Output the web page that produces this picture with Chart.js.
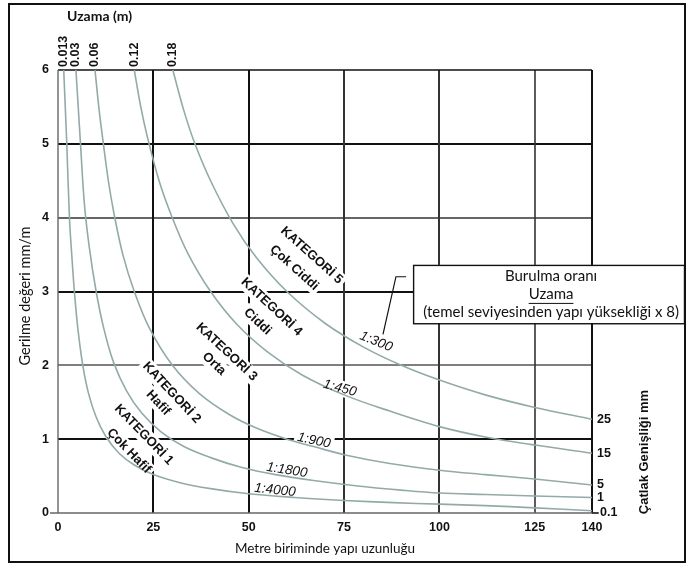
<!DOCTYPE html>
<html>
<head>
<meta charset="utf-8">
<script src="https://cdn.jsdelivr.net/npm/chart.js@4.4.1/dist/chart.umd.min.js"></script>
<style>
  html, body { margin: 0; padding: 0; background: #fff; }
  #wrap { width: 686px; height: 567px; }
</style>
</head>
<body>
<div id="wrap"><canvas id="c" width="686" height="567"></canvas></div>
<script>
// Building length (m) vs. strain (mm/m) for each extension curve
const uzamaLabels = ['0.013', '0.03', '0.06', '0.12', '0.18'];
const crackLabels = ['0.1', '1', '5', '15', '25'];
const ratioLabels = ['1:4000', '1:1800', '1:900', '1:450', '1:300'];

const lenE013 = [1.5, 2.3, 3.0, 3.6, 4.3, 5.2, 6.5, 8, 10, 12.5, 16, 20, 25, 32, 40, 50, 62, 75, 88, 100, 112, 125, 140];
const strE013 = [6, 5, 4, 3.5, 3.0, 2.5, 2.0, 1.62, 1.3, 1.04, 0.81, 0.65, 0.52, 0.41, 0.33, 0.26, 0.21, 0.17, 0.14, 0.12, 0.1, 0.07, 0.03];

const lenE03 = [4.7, 5.3, 5.9, 6.9, 8.2, 10, 12, 14.5, 18, 22, 27, 33, 40, 48, 57, 67, 78, 90, 100, 112, 125, 140];
const strE03 = [6, 5.5, 5, 4.2, 3.6, 3.0, 2.5, 2.05, 1.65, 1.35, 1.1, 0.9, 0.75, 0.62, 0.52, 0.44, 0.37, 0.31, 0.27, 0.25, 0.23, 0.21];

const lenE06 = [9.7, 10.8, 11.9, 13.2, 14.7, 17, 20, 24, 30, 37, 45, 52, 60, 67, 75, 87, 100, 112, 125, 140];
const strE06 = [6, 5.45, 5, 4.5, 4.05, 3.5, 3.0, 2.5, 2.0, 1.62, 1.33, 1.15, 1.0, 0.9, 0.79, 0.67, 0.58, 0.52, 0.46, 0.38];

const lenE12 = [20, 21.7, 23.4, 26.5, 29.8, 34, 40, 47, 55, 64, 75, 87, 100, 112, 125, 140];
const strE12 = [6, 5.5, 5.1, 4.5, 4.02, 3.52, 3.0, 2.55, 2.18, 1.87, 1.6, 1.38, 1.17, 1.03, 0.92, 0.81];

const lenE18 = [30.1, 33, 35.9, 40, 45.9, 52, 60, 70, 80, 90, 100, 112, 125, 140];
const strE18 = [6, 5.45, 5.0, 4.5, 3.92, 3.46, 3.0, 2.57, 2.25, 2.0, 1.8, 1.6, 1.43, 1.27];

const xTicks = [0, 25, 50, 75, 100, 125, 140];
const yTicks = [0, 1, 2, 3, 4, 5, 6];

const curveLens = [lenE013, lenE03, lenE06, lenE12, lenE18];
const curveStrains = [strE013, strE03, strE06, strE12, strE18];

// Category labels: [line1, line2], anchor (x, strain) of each line, angle
const categoryText = [
  ['KATEGORİ 1', 'Çok Hafif'],
  ['KATEGORİ 2', 'Hafif'],
  ['KATEGORİ 3', 'Orta'],
  ['KATEGORİ 4', 'Ciddi'],
  ['KATEGORİ 5', 'Çok Ciddi']
];
const categoryPos = [
  [[22.5, 1.06], [18.6, 0.84], 46],
  [[29.8, 1.63], [26.3, 1.49], 47],
  [[44.2, 2.18], [40.9, 2.02], 43],
  [[56.0, 2.79], [52.3, 2.59], 43],
  [[66.5, 3.49], [61.9, 3.32], 42]
];
const ratioPos = [
  [56.9, 0.31, 6],
  [60.0, 0.58, 9],
  [67.1, 0.98, 12],
  [73.9, 1.69, 15],
  [83.4, 2.32, 22]
];

const curveColor = '#93aaa9';
const BOLD = 'bold 12.5px "Liberation Sans", Arial, sans-serif';

const datasets = curveLens.map((xs, i) => ({
  label: uzamaLabels[i],
  data: xs.map((x, j) => ({ x: x, y: curveStrains[i][j] })),
  borderColor: curveColor,
  borderWidth: 1.6,
  pointRadius: 0,
  fill: false,
  tension: 0.35
}));

function rotText(ctx, text, cx, cy, deg, font, color, bg) {
  ctx.save();
  ctx.translate(cx, cy);
  ctx.rotate(deg * Math.PI / 180);
  ctx.font = font;
  const w = ctx.measureText(text).width;
  if (bg) {
    ctx.fillStyle = '#fff';
    ctx.fillRect(-w / 2 - 3, -8, w + 6, 16);
  } else {
    ctx.fillStyle = color;
    ctx.textAlign = 'center';
    ctx.textBaseline = 'middle';
    ctx.fillText(text, 0, 0);
  }
  ctx.restore();
}

function drawLabels(chart, bg) {
  const ctx = chart.ctx, sx = chart.scales.x, sy = chart.scales.y;
  const catFont = 'bold 13px "Liberation Sans", Arial, sans-serif';
  categoryText.forEach((lines, i) => {
    const p = categoryPos[i];
    rotText(ctx, lines[0], sx.getPixelForValue(p[0][0]), sy.getPixelForValue(p[0][1]), p[2], catFont, '#111', bg);
    rotText(ctx, lines[1], sx.getPixelForValue(p[1][0]), sy.getPixelForValue(p[1][1]), p[2], catFont, '#111', bg);
  });
  const rFont = 'italic 13.5px "Liberation Sans", Arial, sans-serif';
  ratioLabels.forEach((t, i) => {
    const p = ratioPos[i];
    rotText(ctx, t, sx.getPixelForValue(p[0]), sy.getPixelForValue(p[1]), p[2], rFont, '#111', bg);
  });
}

const decor = {
  id: 'decor',
  beforeDraw(chart) {
    const ctx = chart.ctx;
    ctx.save();
    ctx.fillStyle = '#fff';
    ctx.fillRect(0, 0, chart.width, chart.height);
    ctx.restore();
  },
  beforeDatasetsDraw(chart) {
    const ctx = chart.ctx, a = chart.chartArea, sx = chart.scales.x, sy = chart.scales.y;
    ctx.save();
    const hStyle = { 1: ['#111', 2], 2: ['#555', 1.5], 3: ['#111', 2], 4: ['#333', 1.5], 5: ['#111', 2] };
    [1, 2, 3, 4, 5].forEach(v => {
      const y = Math.round(sy.getPixelForValue(v));
      ctx.strokeStyle = hStyle[v][0]; ctx.lineWidth = hStyle[v][1];
      ctx.beginPath(); ctx.moveTo(a.left, y); ctx.lineTo(a.right, y); ctx.stroke();
    });
    const vStyle = { 25: ['#111', 2], 50: ['#111', 2], 75: ['#333', 2], 100: ['#333', 2], 125: ['#333', 1.6] };
    [25, 50, 75, 100, 125].forEach(v => {
      const x = Math.round(sx.getPixelForValue(v));
      ctx.strokeStyle = vStyle[v][0]; ctx.lineWidth = vStyle[v][1];
      ctx.beginPath(); ctx.moveTo(x, a.top); ctx.lineTo(x, a.bottom); ctx.stroke();
    });
    // top edge and right edge
    ctx.strokeStyle = '#111'; ctx.lineWidth = 1.6;
    ctx.beginPath(); ctx.moveTo(a.left, a.top); ctx.lineTo(a.right, a.top); ctx.stroke();
    ctx.lineWidth = 2;
    ctx.beginPath(); ctx.moveTo(a.right, a.top); ctx.lineTo(a.right, a.bottom); ctx.stroke();
    // axes
    ctx.strokeStyle = '#666'; ctx.lineWidth = 1.4;
    ctx.beginPath(); ctx.moveTo(a.left, a.top); ctx.lineTo(a.left, a.bottom); ctx.stroke();
    ctx.beginPath(); ctx.moveTo(a.left - 8, a.bottom); ctx.lineTo(a.right + 6, a.bottom); ctx.stroke();
    // white backing behind labels breaks the grid lines
    drawLabels(chart, true);
    ctx.restore();
  },
  afterDatasetsDraw(chart) {
    const ctx = chart.ctx, a = chart.chartArea, sx = chart.scales.x, sy = chart.scales.y;
    ctx.save();
    drawLabels(chart, false);

    // extension values above the curves
    ctx.fillStyle = '#111';
    ctx.font = 'bold 12.5px "Liberation Sans", Arial, sans-serif';
    uzamaLabels.forEach((t, i) => {
      const x = sx.getPixelForValue(curveLens[i][0]);
      ctx.save();
      ctx.translate(x, a.top - 3);
      ctx.rotate(-Math.PI / 2);
      ctx.textAlign = 'left';
      ctx.textBaseline = 'middle';
      ctx.fillText(t, 0, 0);
      ctx.restore();
    });
    ctx.font = 'bold 14px Lato, sans-serif';
    ctx.textAlign = 'left'; ctx.textBaseline = 'middle';
    ctx.fillText('Uzama (m)', 67, 16);

    // crack width labels at curve ends
    ctx.font = BOLD;
    curveStrains.forEach((ys, i) => {
      const y = sy.getPixelForValue(ys[ys.length - 1]);
      ctx.fillText(crackLabels[i], a.right + (i === 0 ? 8 : 5), i === 0 ? a.bottom : y);
    });
    ctx.strokeStyle = '#111'; ctx.lineWidth = 1.2;
    ctx.beginPath(); ctx.moveTo(a.right, a.bottom); ctx.lineTo(a.right + 7, a.bottom); ctx.stroke();

    ctx.save();
    ctx.translate(644, 452);
    ctx.rotate(-Math.PI / 2);
    ctx.textAlign = 'center';
    ctx.font = 'bold 13px "Liberation Sans", Arial, sans-serif';
    ctx.fillText('Çatlak Genişliği mm', 0, 0);
    ctx.restore();

    // axis titles
    ctx.font = '14.5px Lato, sans-serif';
    ctx.save();
    ctx.translate(25, 296);
    ctx.rotate(-Math.PI / 2);
    ctx.textAlign = 'center';
    ctx.fillText('Gerilme değeri mm/m', 0, 0);
    ctx.restore();
    ctx.font = '13.5px Lato, sans-serif';
    ctx.textAlign = 'center';
    ctx.fillText('Metre biriminde yapı uzunluğu', 325, 549);

    // explanatory box with leader line
    const bx = sx.getPixelForValue(93.1), bt = sy.getPixelForValue(3.36), bb = sy.getPixelForValue(2.57);
    const br = chart.width - 1;
    ctx.fillStyle = '#fff';
    ctx.fillRect(bx, bt, br - bx, bb - bt);
    ctx.strokeStyle = '#111'; ctx.lineWidth = 1.4;
    ctx.strokeRect(bx + 0.5, bt + 0.5, br - bx - 1, bb - bt);
    ctx.lineWidth = 1.2;
    ctx.beginPath();
    ctx.moveTo(bx - 7, sy.getPixelForValue(3.2));
    ctx.lineTo(sx.getPixelForValue(88.6), sy.getPixelForValue(3.2));
    ctx.lineTo(sx.getPixelForValue(85.2), sy.getPixelForValue(2.42));
    ctx.stroke();
    const cx = (bx + br) / 2 + 2;
    ctx.fillStyle = '#111';
    ctx.font = '15px Lato, sans-serif';
    ctx.textAlign = 'center'; ctx.textBaseline = 'middle';
    ctx.fillText('Burulma oranı', cx, bt + 11);
    ctx.fillText('Uzama', cx, bt + 29);
    const uw = ctx.measureText('Uzama').width;
    ctx.lineWidth = 1;
    ctx.beginPath(); ctx.moveTo(cx - uw / 2, bt + 38.5); ctx.lineTo(cx + uw / 2, bt + 38.5); ctx.stroke();
    ctx.fillText('(temel seviyesinden yapı yüksekliği x 8)', cx, bt + 47);

    // outer frame
    ctx.strokeStyle = '#111'; ctx.lineWidth = 2;
    ctx.strokeRect(9, 4, 676, 558);
    ctx.restore();
  }
};

new Chart(document.getElementById('c'), {
  type: 'line',
  data: { datasets: datasets },
  options: {
    responsive: false,
    animation: false,
    devicePixelRatio: 1,
    layout: { padding: { top: 70, right: 94, left: 0, bottom: 0 } },
    plugins: { legend: { display: false }, tooltip: { enabled: false } },
    scales: {
      x: {
        type: 'linear', min: 0, max: 140,
        afterBuildTicks: s => { s.ticks = xTicks.map(v => ({ value: v })); },
        afterFit: s => { s.height = 54; },
        grid: { display: false, drawTicks: false },
        border: { display: false },
        ticks: { padding: 7, color: '#111', font: { family: '"Liberation Sans", Arial, sans-serif', size: 12.5, weight: 'bold' }, maxRotation: 0 }
      },
      y: {
        type: 'linear', min: 0, max: 6,
        afterBuildTicks: s => { s.ticks = yTicks.map(v => ({ value: v })); },
        afterFit: s => { s.width = 58; },
        grid: { display: false, drawTicks: false },
        border: { display: false },
        ticks: { padding: 9, color: '#111', font: { family: '"Liberation Sans", Arial, sans-serif', size: 12.5, weight: 'bold' } }
      }
    }
  },
  plugins: [decor]
});
</script>
</body>
</html>
